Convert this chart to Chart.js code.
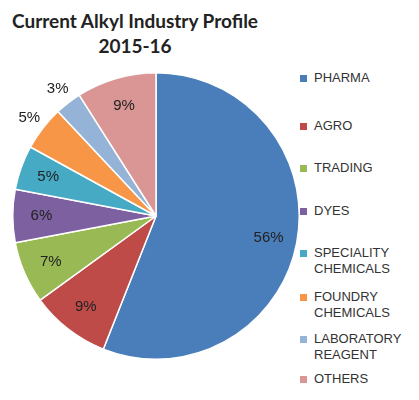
<!DOCTYPE html>
<html>
<head>
<meta charset="utf-8">
<script src="https://cdn.jsdelivr.net/npm/chart.js@4"></script>
<style>
  body { margin: 0; background: #fff; font-family: "Liberation Sans", Arial, sans-serif; }
  #wrap { position: relative; width: 419px; height: 400px; }
  #title { position: absolute; left: 0; width: 270px; top: 8px; text-align: center;
           font-family: Lato, sans-serif; font-weight: bold; font-size: 19px; line-height: 25px; color: #222; }
  #box { position: absolute; left: 12px; top: 72px; width: 288px; height: 288px; }
  #legend { position: absolute; left: 300px; top: 0; width: 119px; }
  .item { position: absolute; left: 0; font-size: 13px; line-height: 16px; color: #333; }
  .sw { position: absolute; left: 0; width: 7px; height: 7px; }
  .txt { position: absolute; left: 14px; white-space: nowrap; }
</style>
</head>
<body>
<div id="wrap">
  <div id="title">Current Alkyl Industry Profile<br>2015-16</div>
  <div id="box"><canvas id="chart"></canvas></div>
  <div id="legend"></div>
</div>
<script>
// data
let categories = ["PHARMA", "AGRO", "TRADING", "DYES", "SPECIALITY CHEMICALS", "FOUNDRY CHEMICALS", "LABORATORY REAGENT", "OTHERS"];
let legendLines = [["PHARMA"], ["AGRO"], ["TRADING"], ["DYES"], ["SPECIALITY", "CHEMICALS"], ["FOUNDRY", "CHEMICALS"], ["LABORATORY", "REAGENT"], ["OTHERS"]];
let shares = [56, 9, 7, 6, 5, 5, 3, 9];
let colors = ["#4a7ebb", "#be4b48", "#98b954", "#7d60a0", "#46aac5", "#f79646", "#95b3d7", "#d99694"];

// legend
let legendTop = [70, 118, 160, 203, 245, 289, 331, 371];
let legend = document.getElementById("legend");
categories.forEach((c, i) => {
    let div = document.createElement("div");
    div.className = "item";
    div.style.top = legendTop[i] + "px";
    div.innerHTML = '<div class="sw" style="top:5px;background:' + colors[i] + '"></div>' +
        '<div class="txt">' + legendLines[i].join("<br>") + '</div>';
    legend.appendChild(div);
});

// percentage labels
let labelRadius = [0.8, 0.8, 0.8, 0.8, 0.8, 1.12, 1.12, 0.8];
const pctLabels = {
    id: "pctLabels",
    afterDatasetsDraw(chart) {
        let ctx = chart.ctx;
        ctx.save();
        ctx.font = "15px 'Liberation Sans', Arial, sans-serif";
        ctx.fillStyle = "#222";
        ctx.textAlign = "center";
        ctx.textBaseline = "middle";
        chart.getDatasetMeta(0).data.forEach((arc, i) => {
            let p = arc.getProps(["x", "y", "startAngle", "endAngle", "outerRadius"], true);
            let a = (p.startAngle + p.endAngle) / 2;
            let r = p.outerRadius * labelRadius[i];
            ctx.fillText(shares[i] + "%", p.x + Math.cos(a) * r, p.y + Math.sin(a) * r);
        });
        ctx.restore();
    }
};

new Chart(document.getElementById("chart"), {
    type: "pie",
    data: {
        labels: categories,
        datasets: [{
            data: shares,
            backgroundColor: colors,
            borderColor: "#ffffff",
            borderWidth: 1.5
        }]
    },
    options: {
        responsive: true,
        maintainAspectRatio: false,
        animation: false,
        plugins: { legend: { display: false }, tooltip: { enabled: false } }
    },
    plugins: [pctLabels]
});
</script>
</body>
</html>
